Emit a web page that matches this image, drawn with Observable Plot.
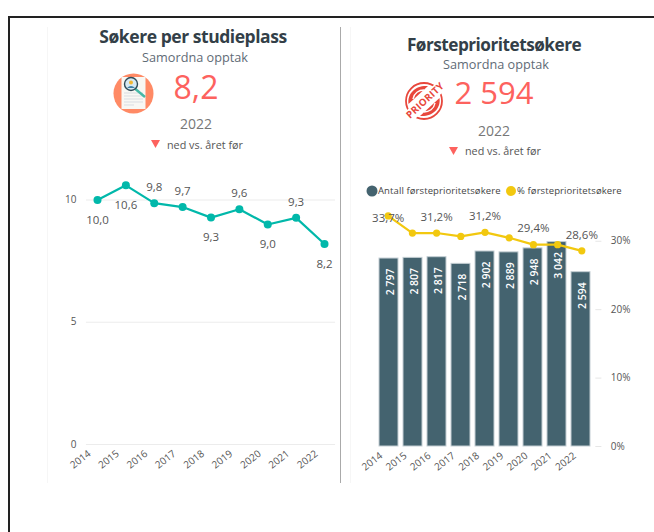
<!DOCTYPE html>
<html><head><meta charset="utf-8">
<script src="https://cdn.jsdelivr.net/npm/d3@7"></script>
<script src="https://cdn.jsdelivr.net/npm/@observablehq/plot@0.6"></script>
<style>
html,body{margin:0;padding:0;background:#fff;width:654px;height:532px;overflow:hidden}
body{position:relative;font-family:"Open Sans",sans-serif}
.a{position:absolute;white-space:nowrap;line-height:1}
.c{transform:translateX(-50%);text-align:center}
svg{overflow:visible}
</style></head><body>
<div class="a" style="left:8px;top:16px;width:646px;height:2px;background:#222"></div>
<div class="a" style="left:8px;top:16px;width:2px;height:516px;background:#222"></div>
<div class="a" style="left:47px;top:27px;width:1px;height:456px;background:#f6f6f6"></div>
<div class="a" style="left:350px;top:27px;width:1px;height:456px;background:#f6f6f6"></div>
<div class="a" style="left:340px;top:27px;width:1px;height:456px;background:#aaa"></div>

<div class="a c" style="left:193px;top:28px;font-size:17.5px;font-weight:700;color:#333f48;letter-spacing:-.45px">Søkere per studieplass</div>
<div class="a c" style="left:195px;top:50.5px;font-size:12.7px;color:#5f6b76">Samordna opptak</div>
<div class="a c" style="left:196px;top:71px;font-size:32px;color:#fd625e">8,2</div>
<div class="a c" style="left:196px;top:117px;font-size:14px;color:#777">2022</div>
<div class="a" style="left:167px;top:140px;font-size:10.8px;color:#555">ned vs. året før</div>
<svg class="a" style="left:150px;top:139px" width="12" height="10"><path d="M1,1H10L5.5,9Z" fill="#fd625e"/></svg>

<div class="a c" style="left:494px;top:35.5px;font-size:17.2px;font-weight:700;color:#333f48;letter-spacing:-.5px">Førsteprioritetsøkere</div>
<div class="a c" style="left:496px;top:58px;font-size:12.7px;color:#5f6b76">Samordna opptak</div>
<div class="a c" style="left:494px;top:77px;font-size:31px;color:#fd625e">2 594</div>
<div class="a c" style="left:494px;top:124px;font-size:14px;color:#777">2022</div>
<div class="a" style="left:465px;top:146px;font-size:10.8px;color:#555">ned vs. året før</div>
<svg class="a" style="left:448px;top:146px" width="12" height="10"><path d="M1,1H10L5.5,9Z" fill="#fd625e"/></svg>

<svg class="a" style="left:112.5px;top:72.5px" width="41" height="41" viewBox="0 0 41 41">
<circle cx="20.5" cy="20.5" r="20" fill="#ff8a65"/>
<rect x="8.5" y="4" width="24" height="32" fill="#f8f8f4"/>
<path d="M11,20H30M11,23H30M11,26H30M11,29H30M11,32H21" stroke="#d9dde2"/>
<path d="M20,14L32,24" stroke="#45b8a6" stroke-width="2.4"/>
<circle cx="18" cy="11" r="6.5" fill="#d6e9f3" stroke="#2f4b58" stroke-width="1.4"/>
<circle cx="18" cy="9.5" r="2" fill="#f2b632"/>
<path d="M14,15Q18,11 22,15" fill="#3d7ea6"/>
</svg>
<svg class="a" style="left:404px;top:81px" width="40" height="40" viewBox="0 0 40 40">
<circle cx="20" cy="20" r="18" fill="none" stroke="#e8473c" stroke-width="1.8"/>
<path d="M4.5,23C3,12 12,4 24,5L4.5,23Z" fill="#e8473c"/>
<path d="M35.5,17C37,28 28,36 16,35L35.5,17Z" fill="#e8473c"/>
<path d="M9,18C10,12 15,9 20,9" fill="none" stroke="#fff" stroke-width="1.4"/>
<path d="M31,22C30,28 25,31 20,31" fill="none" stroke="#fff" stroke-width="1.4"/>
<path d="M0,32L32,2L40,10L9,40Z" fill="#fff"/>
<text transform="translate(6,38) rotate(-43)" font-size="9.8" font-weight="700" fill="#e8473c" font-family="Open Sans" letter-spacing=".3">PRIORITY</text>
</svg>

<svg class="a" style="left:366px;top:185px" width="12" height="12"><circle cx="6" cy="6" r="5.5" fill="#44636f"/></svg>
<div class="a" style="left:378px;top:186px;font-size:9.5px;color:#444;letter-spacing:.1px">Antall førsteprioritetsøkere</div>
<svg class="a" style="left:505px;top:185px" width="12" height="12"><circle cx="6" cy="6" r="5" fill="#f2c80f"/></svg>
<div class="a" style="left:517px;top:186px;font-size:9.5px;color:#444;letter-spacing:.1px">% førsteprioritetsøkere</div>

<div id="left"></div><div id="bars"></div><div id="line"></div>
<script>
const years = [2014,2015,2016,2017,2018,2019,2020,2021,2022];
const soekerePerPlass = [10.0,10.6,9.87,9.71,9.28,9.62,9.0,9.27,8.2];
const soekerLabels = ["10,0","10,6","9,8","9,7","9,3","9,6","9,0","9,3","8,2"];
const soekerAbove = [2,3,5,7];
const soekerBelow = [0,1,4,6,8];
const leftTicks = [0,5,10];
const antall = [2797,2807,2817,2718,2902,2889,2948,3042,2594];
const antallLabels = ["2 797","2 807","2 817","2 718","2 902","2 889","2 948","3 042","2 594"];
const andel = [33.7,31.2,31.2,30.7,31.3,30.5,29.5,29.5,28.6];
const andelLabels = ["33,7%","","31,2%","","31,2%","","29,4%","","28,6%"];
const rightTicks = [0,10,20,30];

const TEAL="#01b8aa", SLATE="#44636f", YEL="#f2c80f", GREY="#555555";
const idx = years.map((_,i)=>i);
const font = '"Open Sans",sans-serif';
const st = {fontFamily:font,background:"transparent",overflow:"visible"};

function place(p,l,t){p.style.left=l+"px";p.style.top=t+"px";p.style.position="absolute";return p;}

const lp = Plot.plot({
  width:290,height:310,marginLeft:0,marginRight:0,marginTop:0,marginBottom:0,style:st,
  x:{type:"linear",domain:[2014,2022],range:[49,276],axis:null},
  y:{domain:[0,10],range:[270,25.5],axis:null},
  marks:[
    Plot.ruleY(leftTicks,{x1:2013.61,x2:2022.39,stroke:"#ececec",strokeWidth:1.2}),
    Plot.text(leftTicks,{x:2013.61,y:d=>d,text:d=>String(d),dx:-10,textAnchor:"end",fill:GREY,fontSize:10}),
    Plot.line(idx,{x:i=>years[i],y:i=>soekerePerPlass[i],stroke:TEAL,strokeWidth:2.2}),
    Plot.dot(idx,{x:i=>years[i],y:i=>soekerePerPlass[i],fill:TEAL,r:4}),
    Plot.text(soekerAbove,{x:i=>years[i],y:i=>soekerePerPlass[i],text:i=>soekerLabels[i],dy:-16,fill:GREY,fontSize:11.5}),
    Plot.text(soekerBelow,{x:i=>years[i],y:i=>soekerePerPlass[i],text:i=>soekerLabels[i],dy:20,fill:GREY,fontSize:11.5}),
    Plot.text(years,{x:d=>d,y:0,text:d=>String(d),rotate:-38,dy:15,dx:-17,fill:GREY,fontSize:10})
  ]});
document.getElementById("left").append(place(lp,48,174));

const bp = Plot.plot({
  width:290,height:300,marginLeft:0,marginRight:0,marginTop:0,marginBottom:0,style:st,
  x:{type:"band",domain:years.map(String),range:[0,217.8],paddingInner:0.2,paddingOuter:0.1,axis:null},
  y:{domain:[0,3869],range:[260,0],axis:null},
  marks:[
    Plot.barY(idx,{x:i=>String(years[i]),y:i=>antall[i],fill:SLATE,stroke:"#c3ced3",strokeWidth:1}),
    Plot.text(idx,{x:i=>String(years[i]),y:i=>antall[i],text:i=>antallLabels[i],rotate:-90,textAnchor:"end",dy:10,dx:2,fill:"#fff",fontWeight:600,fontSize:10.5})
  ]});
document.getElementById("bars").append(place(bp,375.6,186));

const tp = Plot.plot({
  width:290,height:300,marginLeft:0,marginRight:0,marginTop:0,marginBottom:0,style:st,
  x:{type:"linear",domain:[2014,2022],range:[11.7,205.3],axis:null},
  y:{domain:[0,38],range:[260,0],axis:null},
  marks:[
    Plot.line(idx,{x:i=>years[i],y:i=>andel[i],stroke:YEL,strokeWidth:2.2}),
    Plot.dot(idx,{x:i=>years[i],y:i=>andel[i],fill:YEL,r:3.6}),
    Plot.text([0],{x:i=>years[i],y:i=>andel[i],text:i=>andelLabels[i],dy:2,fill:GREY,fontSize:11.5}),
    Plot.text([2,4,6,8],{x:i=>years[i],y:i=>andel[i],text:i=>andelLabels[i],dy:-16,fill:GREY,fontSize:11.5}),
    Plot.text(rightTicks,{x:2022,y:d=>d,text:d=>d+"%",dx:29,textAnchor:"start",fill:GREY,fontSize:10}),
    Plot.text(years,{x:d=>d,y:0,text:d=>String(d),rotate:-38,dy:15,dx:-16,fill:GREY,fontSize:10}),
    Plot.ruleY(rightTicks,{x1:2022.58,x2:2022.83,stroke:"#e6e6e6",strokeWidth:1})
  ]});
document.getElementById("line").append(place(tp,375.6,186));
</script></body></html>
